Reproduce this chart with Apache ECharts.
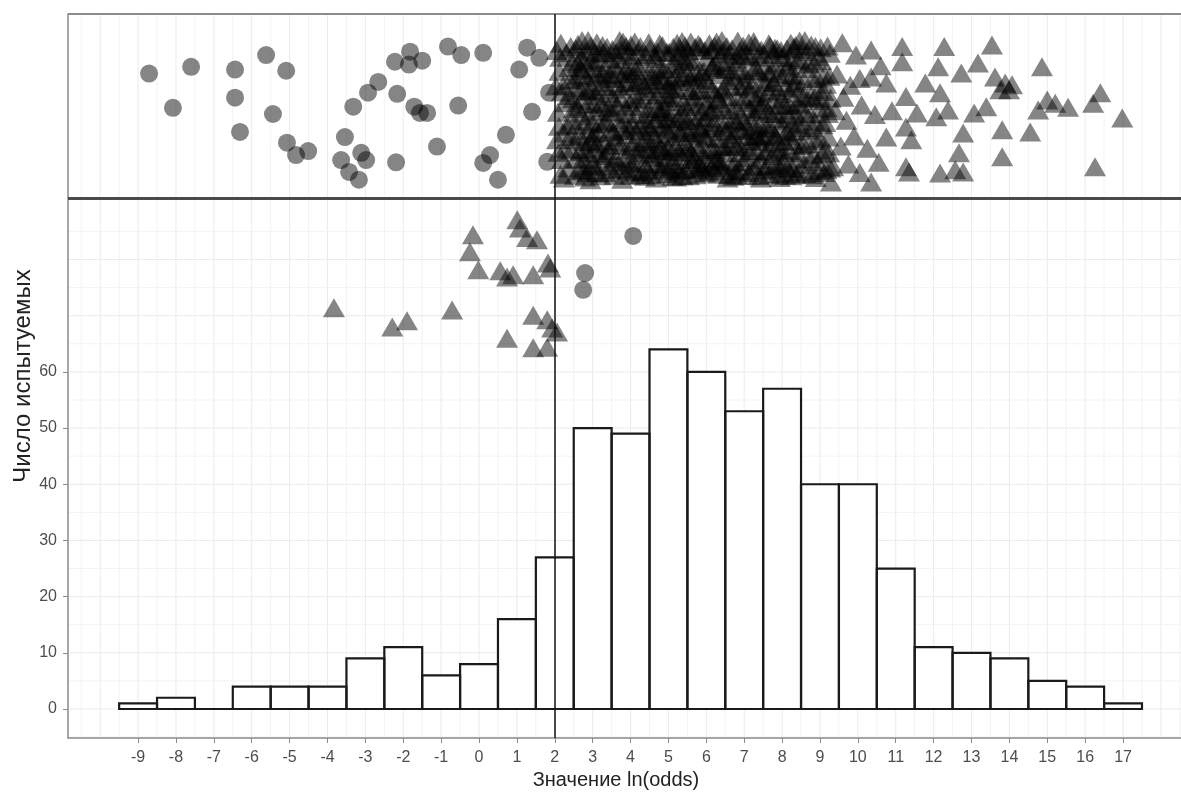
<!DOCTYPE html>
<html>
<head>
<meta charset="utf-8">
<title>Значение ln(odds)</title>
<script src="https://cdn.jsdelivr.net/npm/echarts@6/dist/echarts.min.js"></script>
<style>
  html, body { margin: 0; padding: 0; background: #fff; }
  #chart { width: 1181px; height: 798px; }
</style>
</head>
<body>
<div id="chart"></div>
<script>
// histogram: bin centres (width 1) and counts
const binCenters = [-9, -8, -7, -6, -5, -4, -3, -2, -1, 0, 1, 2, 3, 4, 5, 6, 7, 8, 9, 10, 11, 12, 13, 14, 15, 16, 17];
const binCounts  = [1, 2, 0, 4, 4, 4, 9, 11, 6, 8, 16, 27, 50, 49, 64, 60, 53, 57, 40, 40, 25, 11, 10, 9, 5, 4, 1];

const xTicks = binCenters;
const yTicks = [0, 10, 20, 30, 40, 50, 60];
const cutOff = 2;
const boxTop = 123.7, boxBottom = 90.9;
const xMin = -10.85, xMax = 18.53, yMin = -5.16;

// circles in the top band (left of cut-off)
const circlesTop = [
  [-8.71,113.1],[-7.6,114.3],[-8.08,107.0],[-6.44,113.8],[-6.44,108.8],[-6.31,102.7],[-5.62,116.4],
  [-5.09,113.6],[-5.44,105.9],[-5.07,100.8],[-4.83,98.6],[-4.51,99.3],[-3.32,107.2],[-2.93,109.7],
  [-2.66,111.6],[-3.54,101.8],[-3.64,97.7],[-3.11,99.0],[-2.98,97.7],[-3.43,95.6],[-3.17,94.2],
  [-2.22,115.2],[-1.82,117.0],[-1.85,114.7],[-1.50,115.4],[-2.16,109.5],[-1.71,107.2],[-1.56,106.1],
  [-1.37,106.1],[-2.19,97.3],[-1.11,100.1],[-0.82,117.9],[-0.47,116.4],[-0.55,107.4],[0.11,116.8],
  [0.11,97.2],[0.29,98.6],[0.50,94.2],[0.71,102.2],[1.27,117.7],[1.06,113.8],[1.59,115.9],
  [1.40,106.3],[1.85,109.7],[1.80,97.4]
];

// circles below the band (right of cut-off)
const circlesBelow = [[4.07,84.2],[2.80,77.6],[2.75,74.6]];

// triangles below the band (left of cut-off)
const trianglesBelow = [
  [-3.83,71.4],[-2.29,68.0],[-1.90,69.1],[-0.71,71.0],[-0.16,84.4],[-0.24,81.4],[-0.02,78.2],
  [0.56,78.0],[0.74,76.9],[0.90,77.3],[1.01,87.1],[1.08,85.6],[1.27,83.9],[1.53,83.5],[1.43,77.3],
  [1.82,79.4],[1.88,78.5],[1.43,70.1],[1.80,69.3],[1.93,67.8],[2.06,67.1],[0.74,66.0],[1.43,64.3],[1.80,64.4]
];

// triangles in the top band (right of cut-off)
const trianglesTop = [
  // 2.0 - 2.5
  [2.05,117.2],[2.12,113.5],[2.30,116.8],[2.18,109.8],[2.08,106.2],[2.40,111.9],[2.25,102.5],[2.10,99.1],
  [2.35,96.3],[2.45,104.8],[2.15,95.2],[2.42,117.9],[2.28,107.9],[2.06,101.3],
  // 2.5 - 3.5
  [2.55,117.5],[2.62,112.8],[2.71,108.3],[2.58,103.9],[2.66,99.2],[2.53,95.0],[2.78,115.4],[2.84,110.1],
  [2.91,105.6],[2.77,101.0],[2.88,96.7],[2.95,118.0],[3.02,113.9],[3.08,109.2],[2.99,104.1],[3.05,99.8],
  [3.12,95.4],[3.18,116.6],[3.22,111.5],[3.28,107.0],[3.15,102.6],[3.25,97.9],[3.33,114.1],[3.38,117.8],
  [3.42,109.6],[3.36,104.7],[3.45,100.3],[3.48,96.0],[2.60,114.9],[2.74,97.8],[2.82,117.1],[2.93,100.9],
  [3.06,116.9],[3.20,94.9],[3.30,101.2],[3.40,112.3],[2.68,106.1],[2.86,103.0],[3.10,106.4],[3.35,98.5],
  [2.96,110.9],[3.14,113.2],[2.57,110.6],[3.46,106.3],[2.80,94.7],[3.00,97.0],[3.26,118.1],[2.70,116.0],
  // 3.5 - 4.5
  [3.52,117.4],[3.58,112.2],[3.64,107.5],[3.55,102.8],[3.61,98.1],[3.57,95.0],[3.70,115.6],[3.76,110.3],
  [3.82,104.9],[3.73,100.4],[3.79,96.2],[3.88,118.0],[3.94,113.1],[3.99,108.0],[3.91,102.2],[3.97,97.5],
  [4.04,116.2],[4.10,110.9],[4.15,106.0],[4.07,100.8],[4.12,95.6],[4.21,114.3],[4.26,117.9],[4.30,109.3],
  [4.24,103.7],[4.33,99.0],[4.38,94.8],[4.44,112.6],[4.47,106.9],[4.41,101.5],[4.36,97.2],[3.66,113.8],
  [3.85,97.9],[4.01,118.2],[4.18,98.6],[4.28,112.0],[3.54,108.9],[3.69,104.3],[3.86,111.4],[4.05,104.0],
  [4.19,108.7],[4.40,116.5],[3.93,95.9],[3.75,117.3],[4.13,113.7],[4.49,99.6],[3.60,100.9],[3.96,105.8],[4.35,104.9],
  // 4.5 - 5.5
  [4.52,117.6],[4.57,113.0],[4.62,108.4],[4.55,103.5],[4.60,98.8],[4.54,95.1],[4.68,115.8],[4.73,111.2],
  [4.78,106.2],[4.70,101.1],[4.75,96.5],[4.84,118.1],[4.89,114.0],[4.93,109.4],[4.86,104.0],[4.91,99.3],
  [4.97,95.3],[5.02,116.9],[5.07,112.0],[5.11,107.3],[5.04,102.4],[5.09,97.6],[5.17,114.8],[5.22,110.2],
  [5.26,105.1],[5.19,100.2],[5.24,95.7],[5.31,117.5],[5.35,112.7],[5.40,108.1],[5.33,103.0],[5.38,98.4],
  [5.45,115.3],[5.48,110.6],[5.43,101.0],[5.47,96.1],[4.58,110.5],[4.66,105.0],[4.80,100.0],[4.95,103.2],
  [5.13,117.8],[5.28,99.1],[5.42,105.6],[4.64,96.9],[4.81,112.6],[4.99,111.0],[5.15,104.5],[5.30,114.0],
  [4.71,117.0],[4.88,97.0],[5.05,108.9],[5.21,96.8],[5.37,94.9],[4.53,100.6],[4.76,103.6],[5.00,99.9],
  [5.25,116.3],[5.44,118.0],[4.92,106.8],[5.10,94.8],
  // 5.5 - 6.5
  [5.52,117.1],[5.57,112.4],[5.62,107.7],[5.55,102.6],[5.60,97.8],[5.54,94.9],[5.68,115.2],[5.73,110.0],
  [5.78,105.3],[5.70,100.5],[5.75,96.0],[5.84,117.9],[5.89,113.4],[5.93,108.6],[5.86,103.1],[5.91,98.7],
  [5.97,95.4],[6.02,116.0],[6.07,111.3],[6.11,106.6],[6.04,101.6],[6.09,97.1],[6.17,114.5],[6.22,118.0],
  [6.26,109.6],[6.19,104.4],[6.24,99.5],[6.31,95.2],[6.35,112.9],[6.40,107.8],[6.33,102.7],[6.38,116.7],
  [6.45,110.4],[6.48,100.1],[6.43,96.4],[5.58,110.1],[5.66,104.8],[5.81,99.9],[5.95,105.2],[6.13,117.4],
  [6.28,98.0],[6.42,105.0],[5.64,97.3],[5.80,112.1],[5.99,111.9],[6.15,103.9],[6.30,113.9],[5.71,117.8],
  [5.88,96.3],[6.05,108.2],[6.21,95.9],[6.46,117.2],[5.53,100.0],[5.77,102.1],[6.01,99.2],[6.36,97.6],
  // 6.5 - 7.5
  [6.52,113.8],[6.57,108.9],[6.62,104.1],[6.55,99.0],[6.60,95.2],[6.68,117.5],[6.73,112.5],[6.78,107.3],
  [6.70,102.2],[6.75,97.3],[6.84,115.7],[6.89,110.7],[6.93,105.7],[6.86,100.6],[6.91,95.8],[6.97,118.0],
  [7.02,113.0],[7.07,108.0],[7.11,103.0],[7.04,98.1],[7.17,116.2],[7.22,111.2],[7.26,106.3],[7.19,101.2],
  [7.24,96.5],[7.31,114.2],[7.35,109.0],[7.40,104.0],[7.33,99.3],[7.38,94.9],[7.45,117.3],[7.48,112.1],
  [7.43,107.4],[7.47,102.0],[6.58,116.4],[6.66,101.5],[6.81,95.0],[6.95,102.9],[7.13,95.5],[7.28,118.1],
  [7.42,97.8],[6.64,110.9],[6.80,104.6],[6.99,111.9],[7.15,106.9],[7.30,101.9],[6.71,94.8],[6.88,117.1],
  [7.06,100.0],[7.36,113.5],
  // 7.5 - 8.5
  [7.52,116.6],[7.57,111.6],[7.62,106.5],[7.55,101.6],[7.60,96.6],[7.68,118.0],[7.73,113.6],[7.78,108.4],
  [7.70,103.5],[7.75,98.5],[7.84,115.0],[7.89,110.1],[7.93,105.1],[7.86,100.0],[7.91,95.3],[7.97,117.2],
  [8.02,112.4],[8.07,107.4],[8.11,102.5],[8.04,97.4],[8.17,114.5],[8.22,109.6],[8.26,104.3],[8.19,99.4],
  [8.24,94.9],[8.31,117.8],[8.35,112.7],[8.40,107.8],[8.33,102.8],[8.38,97.9],[8.45,115.6],[8.48,110.4],
  [8.43,105.4],[8.47,100.3],[8.42,95.6],[7.58,104.0],[7.66,95.1],[7.81,117.6],[7.95,99.6],[8.13,117.5],
  [8.28,96.2],[7.64,113.2],[7.80,102.2],[7.99,108.7],[8.15,105.8],[8.29,110.9],[7.71,110.8],[7.88,96.8],
  [8.06,101.0],[8.36,118.1],[7.54,98.9],[8.20,115.9],
  // 8.5 - 9.3
  [8.53,117.4],[8.58,111.8],[8.63,106.0],[8.56,100.5],[8.61,95.3],[8.70,114.8],[8.76,109.1],[8.81,103.4],
  [8.73,97.9],[8.88,117.9],[8.93,112.3],[8.98,106.8],[8.90,101.2],[8.95,95.8],[9.04,115.4],[9.09,109.9],
  [9.14,104.4],[9.06,98.8],[9.20,118.0],[9.25,112.6],[9.22,101.8],[9.27,96.3],[8.66,117.0],[8.84,98.6],
  [9.01,101.5],[9.17,96.0],[8.68,103.0],[8.86,108.8],[9.12,112.9],[8.79,95.1],[9.18,107.0],[8.96,116.1],
  // 9.3 - 11
  [9.59,118.6],[9.95,116.4],[10.35,117.3],[9.45,113.0],[9.80,111.0],[10.05,112.2],[10.35,112.5],[10.75,111.4],
  [9.40,106.5],[9.70,104.8],[10.10,107.5],[10.45,105.8],[9.55,100.2],[9.90,102.0],[10.25,99.8],[10.75,101.8],
  [9.35,96.5],[9.75,97.0],[10.05,95.5],[10.55,97.3],[9.29,93.8],[10.35,93.8],[9.62,108.9],[10.60,114.5],[10.90,106.5],
  // 11 - 17
  [11.17,117.9],[11.17,115.2],[12.28,117.9],[13.54,118.2],[12.12,114.3],[12.73,113.2],[13.17,115.0],[13.62,112.5],
  [13.89,111.4],[13.99,110.2],[14.86,114.3],[15.00,108.4],[14.76,106.6],[15.21,107.8],[15.55,107.1],[16.40,109.7],
  [16.21,107.8],[16.98,105.2],[13.81,103.1],[14.55,102.7],[13.81,98.3],[16.26,96.5],[12.78,102.5],[12.67,99.0],
  [12.57,96.0],[12.17,95.4],[12.78,95.6],[12.07,105.4],[12.38,106.6],[13.07,106.1],[13.39,107.2],[11.27,109.0],
  [11.78,111.4],[12.17,109.7],[11.56,106.1],[11.27,103.6],[11.41,101.3],[11.27,96.5],[11.35,95.6],[14.07,111.1],
  [13.76,110.2]
];

// more triangles in the dense part of the band (2 .. 9.3)
const trianglesDense = [
  [2.14,116.0],[2.38,114.2],[2.22,111.0],[2.48,108.6],[2.33,104.0],[2.19,97.8],[2.44,99.5],[2.61,118.3],
  [2.73,113.7],[2.52,112.1],[2.65,102.1],[2.87,107.7],[2.79,104.6],[2.97,115.6],[2.90,98.9],[2.64,95.8],
  [2.83,112.4],[2.98,101.8],[2.50,106.9],[2.24,94.5],[2.36,109.2],[2.75,96.0],[2.94,94.2],[2.56,98.0],
  [2.03,110.9],[2.69,110.2],[2.88,119.0],[2.47,115.2],[2.27,99.7],[2.59,107.2],[2.92,109.9],[2.81,99.6],
  [2.11,103.7],[2.40,101.9],[2.72,119.0],[2.98,112.7],[2.16,118.5],[2.53,101.3],[2.86,95.5],[2.67,114.1],
  [3.03,107.7],[3.11,118.6],[3.19,104.1],[3.27,113.0],[3.09,96.6],[3.34,95.5],[3.44,115.8],[3.49,103.2],
  [3.21,98.9],[3.37,110.8],[3.16,110.2],[3.04,102.4],[3.29,116.8],[3.41,99.4],[3.56,114.6],[3.63,101.8],
  [3.68,96.8],[3.74,108.6],[3.81,113.0],[3.89,99.5],[3.98,111.5],[3.92,116.4],[3.83,102.9],[3.71,119.0],
  [3.59,106.1],[3.78,94.3],[3.95,103.4],[3.87,107.2],[3.13,100.6],[3.24,107.9],[3.47,112.8],[3.53,97.3],
  [3.67,110.9],[3.80,118.7],[3.99,95.0],[3.31,104.4],[3.07,115.1],[3.43,107.1],[3.62,116.9],[3.90,114.2],
  [4.02,113.5],[4.09,97.1],[4.14,103.0],[4.20,117.0],[4.27,107.3],[4.34,114.9],[4.39,102.8],[4.46,96.0],
  [4.06,108.5],[4.23,99.8],[4.31,95.6],[4.43,109.9],[4.48,118.6],[4.11,118.7],[4.17,111.7],[4.29,101.0],
  [4.37,111.0],[4.51,105.8],[4.56,98.2],[4.63,116.2],[4.69,106.9],[4.74,99.5],[4.79,113.8],[4.85,101.6],
  [4.90,108.1],[4.96,116.9],[4.59,102.3],[4.67,94.5],[4.72,109.3],[4.83,95.9],[4.94,98.2],[4.61,111.9],
  [4.77,118.4],[4.87,111.8],[4.98,105.1],[4.25,95.1],[4.45,104.1],[4.03,100.1],[4.66,113.5],[4.82,106.3],
  [5.01,104.9],[5.06,114.5],[5.12,99.3],[5.18,108.7],[5.23,118.5],[5.29,102.7],[5.34,96.0],[5.39,115.9],
  [5.46,107.2],[5.03,96.2],[5.16,112.3],[5.27,111.7],[5.32,106.0],[5.41,99.7],[5.49,113.2],[5.14,101.9],
  [5.20,94.7],[5.36,118.8],[5.51,104.7],[5.56,115.6],[5.61,99.1],[5.67,109.0],[5.72,95.1],[5.76,113.0],
  [5.82,103.6],[5.87,110.2],[5.92,96.5],[5.96,117.2],[5.59,118.7],[5.65,102.5],[5.74,107.3],[5.83,96.9],
  [5.90,106.4],[5.98,101.8],[5.63,112.6],[5.79,118.3],[5.94,113.5],[5.08,110.4],[5.44,103.4],[5.69,97.9],
  [6.03,103.4],[6.08,118.4],[6.12,99.6],[6.16,110.3],[6.20,107.1],[6.25,115.1],[6.29,101.5],[6.34,96.7],
  [6.39,110.0],[6.44,103.5],[6.49,114.6],[6.06,95.6],[6.14,114.2],[6.23,97.5],[6.32,108.5],[6.41,119.0],
  [6.47,106.6],[6.10,106.2],[6.37,100.0],[6.27,118.7],[6.53,102.9],[6.59,111.8],[6.63,97.0],[6.67,106.6],
  [6.72,115.1],[6.77,100.1],[6.82,109.0],[6.87,103.3],[6.92,113.7],[6.96,97.4],[6.54,117.9],[6.61,100.3],
  [6.69,113.4],[6.74,104.9],[6.83,118.9],[6.90,99.0],[6.98,108.5],[6.56,94.5],[6.79,95.8],[6.94,116.3],
  [7.01,104.5],[7.05,116.6],[7.09,95.0],[7.14,110.4],[7.18,99.4],[7.23,113.7],[7.27,103.6],[7.32,96.8],
  [7.37,116.0],[7.41,101.0],[7.46,109.5],[7.03,110.9],[7.12,118.6],[7.20,105.0],[7.29,108.8],[7.39,106.7],
  [7.44,94.5],[7.08,101.9],[7.25,118.8],[7.34,102.1],[7.51,107.9],[7.56,114.6],[7.61,99.3],[7.65,118.4],
  [7.69,106.0],[7.74,96.1],[7.79,111.5],[7.83,101.9],[7.87,117.5],[7.92,107.5],[7.96,97.0],[7.53,95.9],
  [7.63,109.8],[7.72,100.7],[7.82,106.0],[7.90,113.0],[7.98,103.0],[7.59,103.3],[7.77,116.5],[7.94,94.6],
  [8.01,116.0],[8.05,99.1],[8.09,110.6],[8.14,96.4],[8.18,107.5],[8.23,118.5],[8.27,101.2],[8.32,111.4],
  [8.37,95.2],[8.41,104.0],[8.46,118.9],[8.03,104.8],[8.12,114.1],[8.21,102.0],[8.30,106.6],[8.39,115.3],
  [8.44,99.0],[8.49,107.5],[8.08,95.0],[8.25,112.9],[8.52,103.5],[8.57,96.9],[8.62,114.0],[8.67,108.7],
  [8.71,100.6],[8.77,118.2],[8.82,112.2],[8.87,104.6],[8.92,97.4],[8.97,110.2],[9.02,117.7],[9.07,104.0],
  [9.11,95.5],[9.16,111.2],[9.21,106.0],[9.26,116.7],[8.60,119.0],[8.74,105.9],[8.89,94.6],[9.00,108.3],
  [9.13,99.5],[9.24,99.0],[8.55,108.9],[8.85,115.0],[9.28,108.7]
];

// faint grid lines
const vGridMajor = [-10, -9, -8, -7, -6, -5, -4, -3, -2, -1, 0, 1, 2, 3, 4, 5, 6, 7, 8, 9, 10, 11, 12, 13, 14, 15, 16, 17, 18];
const vGridMinor = [-10.5, -9.5, -8.5, -7.5, -6.5, -5.5, -4.5, -3.5, -2.5, -1.5, -0.5, 0.5, 1.5, 2.5, 3.5, 4.5, 5.5, 6.5, 7.5, 8.5, 9.5, 10.5, 11.5, 12.5, 13.5, 14.5, 15.5, 16.5, 17.5, 18.5];
const hGridMajor = [0, 10, 20, 30, 40, 50, 60, 70, 80];
const hGridMinor = [-5, 5, 15, 25, 35, 45, 55, 65, 75, 85];

const pointColor = 'rgba(0,0,0,0.6)';
const font = '"Liberation Sans", Arial, sans-serif';

const chart = echarts.init(document.getElementById('chart'));

// grid rows: [orientation (0 = vertical, 1 = horizontal), value, major flag]
const gridRows = [].concat(
  vGridMinor.map(v => [0, v, 0]),
  vGridMajor.map(v => [0, v, 1]),
  hGridMinor.map(v => [1, v, 0]),
  hGridMajor.map(v => [1, v, 1])
);

function histRect(api, fill, stroke) {
  const x = api.value(0), n = api.value(1);
  const p0 = api.coord([x - 0.5, n]);
  const p1 = api.coord([x + 0.5, 0]);
  return {
    type: 'rect',
    shape: { x: p0[0], y: p0[1], width: p1[0] - p0[0], height: p1[1] - p0[1] },
    style: { fill: fill, stroke: stroke, lineWidth: stroke ? 2.2 : 0 }
  };
}

const histData = binCenters.map((c, i) => [c, binCounts[i]]);

const option = {
  animation: false,
  backgroundColor: '#fff',
  grid: { left: 68, right: 0, top: 14, bottom: 60, outerBoundsMode: 'none', containLabel: false },
  xAxis: {
    type: 'value',
    min: xMin,
    max: xMax,
    name: 'Значение ln(odds)',
    nameLocation: 'middle',
    nameGap: 32,
    nameMoveOverlap: false,
    nameTextStyle: { fontFamily: font, fontSize: 20, color: '#222', padding: [0, 17, 0, 0] },
    axisLine: { show: true, onZero: false, lineStyle: { color: '#8a8a8a', width: 1.5 } },
    axisTick: { show: true, length: 5, customValues: xTicks, lineStyle: { color: '#8a8a8a' } },
    axisLabel: { customValues: xTicks, margin: 12, fontFamily: font, fontSize: 16, color: '#4d4d4d' },
    splitLine: { show: false }
  },
  yAxis: {
    type: 'value',
    min: yMin,
    max: boxTop,
    name: 'Число испытуемых',
    nameLocation: 'middle',
    nameGap: 33,
    nameMoveOverlap: false,
    nameTextStyle: { fontFamily: font, fontSize: 24, color: '#222' },
    axisLine: { show: true, onZero: false, lineStyle: { color: '#8a8a8a', width: 1.5 } },
    axisTick: { show: true, length: 5, customValues: yTicks, lineStyle: { color: '#8a8a8a' } },
    axisLabel: { customValues: yTicks, margin: 11, fontFamily: font, fontSize: 16, color: '#4d4d4d' },
    splitLine: { show: false }
  },
  series: [
    {
      // background grid, drawn below everything
      type: 'custom',
      name: 'grid',
      z: 0,
      silent: true,
      data: gridRows,
      renderItem: function (params, api) {
        const horiz = api.value(0) === 1, v = api.value(1), major = api.value(2) === 1;
        const a = horiz ? api.coord([xMin, v]) : api.coord([v, yMin]);
        const b = horiz ? api.coord([xMax, v]) : api.coord([v, boxTop]);
        return {
          type: 'line',
          shape: { x1: a[0], y1: a[1], x2: b[0], y2: b[1] },
          style: { stroke: major ? '#ebebeb' : '#f3f3f3', lineWidth: 1 }
        };
      }
    },
    {
      type: 'custom',
      name: 'histFill',
      z: 2,
      silent: true,
      data: histData,
      renderItem: (params, api) => histRect(api, '#fff', null)
    },
    {
      type: 'custom',
      name: 'histOutline',
      z: 3,
      silent: true,
      data: histData,
      renderItem: (params, api) => histRect(api, 'none', '#1a1a1a')
    },
    {
      type: 'scatter',
      name: 'circles',
      z: 4,
      symbol: 'circle',
      symbolSize: 18,
      itemStyle: { color: pointColor, borderWidth: 0 },
      emphasis: { disabled: true },
      data: circlesTop.concat(circlesBelow)
    },
    {
      type: 'scatter',
      name: 'triangles',
      z: 4,
      symbol: 'triangle',
      symbolSize: [22, 19],
      itemStyle: { color: pointColor, borderWidth: 0 },
      emphasis: { disabled: true },
      large: false,
      progressive: 0,
      data: trianglesTop.concat(trianglesDense, trianglesBelow)
    },
    {
      // band borders and cut-off line
      type: 'scatter',
      data: [],
      z: 6,
      silent: true,
      markLine: {
        silent: true,
        symbol: 'none',
        label: { show: false },
        animation: false,
        data: [
          { yAxis: boxTop, lineStyle: { color: '#8c8c8c', width: 2, type: 'solid' } },
          { yAxis: boxBottom, lineStyle: { color: '#4a4a4a', width: 3, type: 'solid' } },
          { xAxis: cutOff, lineStyle: { color: '#111', width: 1.5, type: 'solid' } }
        ]
      }
    }
  ]
};

chart.setOption(option);
</script>
</body>
</html>
